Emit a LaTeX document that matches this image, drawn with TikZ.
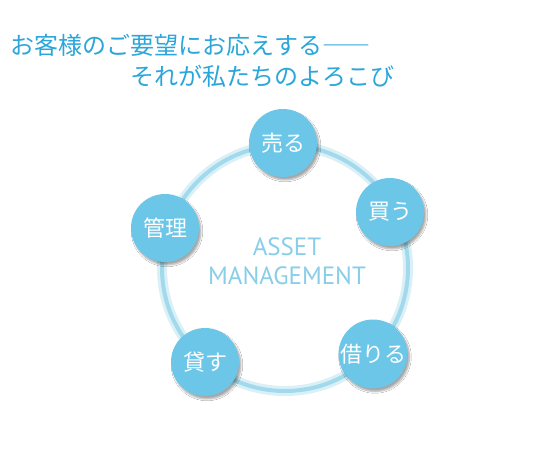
\documentclass[tikz,border=0pt]{standalone}
\usepackage{fontspec}
\newfontfamily\jpfont{Noto Sans CJK JP}
\newfontfamily\latfont{PT Sans}
\usepackage{tikz}
\usetikzlibrary{shadows.blur}
\usepackage{xcolor}

\definecolor{spotblue}{HTML}{6CC6E8}
\definecolor{ringblue}{HTML}{A2D9EC}
\definecolor{headblue}{HTML}{2AA6DA}
\definecolor{assetblue}{HTML}{88CEE9}

\begin{document}
\begin{tikzpicture}[
        x=1pt, y=-1pt,
        headline/.style={anchor=west, inner sep=0pt, text=headblue, font=\jpfont\fontsize{24}{24}\selectfont},
        ring/.style={circle, draw=ringblue, line width=4pt, minimum size=246pt, inner sep=0pt,
            preaction={draw=ringblue!40, line width=10pt}},
        spot/.style={circle, fill=spotblue, minimum size=68pt, inner sep=0pt, text=white,
            font=\jpfont\fontsize{22}{22}\selectfont,
            blur shadow={shadow xshift=2pt, shadow yshift=-3pt, shadow opacity=35, shadow blur steps=6}},
        center/.style={align=center, text=assetblue, font=\latfont\fontsize{25}{29}\selectfont}
    ]
    \useasboundingbox[fill=white] (0,0) rectangle (560,450);
    % heading
    \node[headline] (line1) at (10,45) {お客様のご要望にお応えする――};
    \node[headline] (line2) at (130,76) {それが私たちのよろこび};
    % ring and spots
    \node[ring] (ring) at (285,268) {};
    \node[center] (asset) at (287,261) {ASSET\\MANAGEMENT};
    \node[spot] (sell) at (283,143) {売る};
    \node[spot] (buy) at (390,212) {買う};
    \node[spot] (manage) at (165,228) {管理};
    \node[spot] (lend) at (205,362) {貸す};
    \node[spot] (borrow) at (373,354) {借りる};
\end{tikzpicture}
\end{document}
